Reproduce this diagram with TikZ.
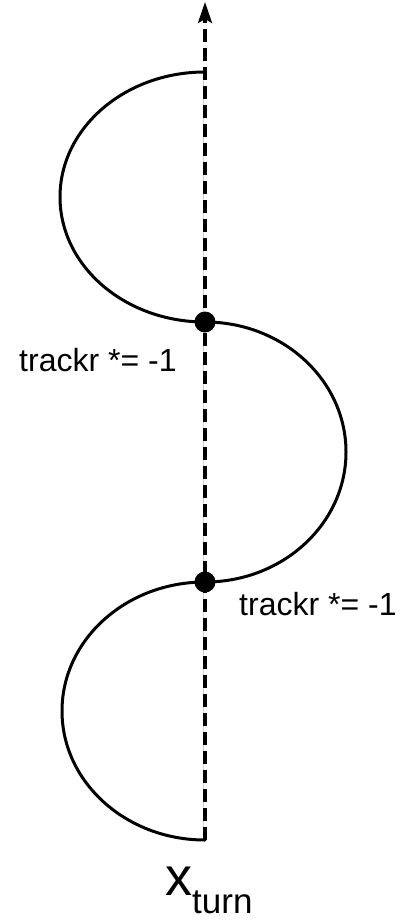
\documentclass[tikz,border=0pt]{standalone}
\usepackage{fontspec}
\setmainfont{Liberation Sans}
\usetikzlibrary{arrows.meta}
\begin{document}
\begin{tikzpicture}[x=1pt,y=-1pt,
  curve/.style={line width=3pt, line cap=round},
  axis/.style={line width=3.5pt, dash pattern=on 13pt off 6pt, -{Stealth[length=21pt,width=14pt,inset=4pt]}},
  dot/.style={circle, fill=black, inner sep=0pt, minimum size=21pt},
  lbl/.style={inner sep=0pt, font=\fontsize{32}{36}\selectfont}]
\useasboundingbox (0,0) rectangle (410,920);
\fill[white] (0,0) rectangle (410,920);
\coordinate (top) at (205,2);
\coordinate (p0) at (205,72);
\coordinate (p1) at (205,322);
\coordinate (p2) at (205,582);
\coordinate (p3) at (205,840);
\draw[gray!35, line width=0.6pt] ([xshift=-2pt]p0) -- ([xshift=-2pt]p3);
\draw[axis] (p3) -- (top);
\draw[curve] (p0) arc[start angle=270, end angle=90, x radius=145, y radius=125];
\draw[curve] (p1) arc[start angle=-90, end angle=90, x radius=141, y radius=130];
\draw[curve] (p2) arc[start angle=270, end angle=90, x radius=143, y radius=129];
\node[dot] (d1) at (p1) {};
\node[dot] (d2) at (p2) {};
\node[lbl, anchor=base west] (l1) at (19,371) {trackr *= -1};
\node[lbl, anchor=base west] (l2) at (239,615) {trackr *= -1};
\node[inner sep=0pt, anchor=base west] (xt) at (165,895) {{\fontsize{54}{60}\selectfont x}{\fontsize{35}{40}\selectfont\raisebox{-18pt}{turn}}};
\end{tikzpicture}
\end{document}
